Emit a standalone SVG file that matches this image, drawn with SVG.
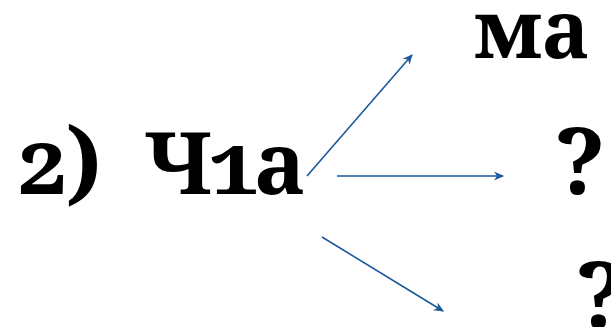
<svg xmlns="http://www.w3.org/2000/svg" width="611" height="327" viewBox="0 0 611 327">
<style>
.t{font-family:"Noto Serif","Liberation Serif",serif;font-weight:bold;fill:#000;font-variant-numeric:oldstyle-nums}
.c{stroke:#1a5a9a;stroke-width:1.6;fill:none}
</style>
<defs>
<marker id="ah" viewBox="0 0 10 10" refX="9" refY="5" markerWidth="11" markerHeight="10" markerUnits="userSpaceOnUse" orient="auto">
<path d="M0,0.5 L10,5 L0,9.5 L3,5 Z" fill="#1a5a9a"/>
</marker>
</defs>
<rect width="611" height="327" fill="#fff"/>
<g id="source">
<text class="t" y="194" font-size="90"><tspan x="16">2</tspan><tspan x="66">)</tspan><tspan x="145" font-size="86" letter-spacing="-4">Ч1а</tspan></text>
</g>
<g id="target-ma">
<text class="t" x="474" y="58" font-size="80">ма</text>
</g>
<g id="target-q1">
<text class="t" x="555" y="194" font-size="92">?</text>
</g>
<g id="target-q2">
<text class="t" x="576" y="328" font-size="92">?</text>
</g>
<g id="connectors">
<line class="c" x1="307" y1="176" x2="412" y2="55" marker-end="url(#ah)"/>
<line class="c" x1="337" y1="176" x2="503" y2="176" marker-end="url(#ah)"/>
<line class="c" x1="322" y1="237" x2="443" y2="311" marker-end="url(#ah)"/>
</g>
</svg>
